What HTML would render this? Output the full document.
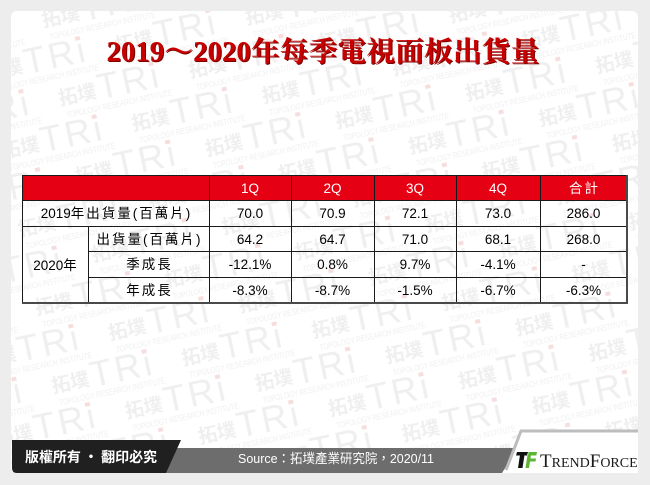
<!DOCTYPE html>
<html><head><meta charset="utf-8">
<style>
html,body{margin:0;padding:0;background:#ededed;}
body{width:650px;height:485px;overflow:hidden;position:relative;}
svg{position:absolute;left:0;top:0;display:block;}
</style></head>
<body>
<svg width="650" height="485" viewBox="0 0 650 485" xmlns="http://www.w3.org/2000/svg">
<defs>
<pattern id="wm" patternUnits="userSpaceOnUse" width="133" height="80" x="36.9" y="10.2" patternTransform="rotate(-12)">
  <g fill="#efefef">
    <text x="0" y="25" font-size="19" font-weight="bold" font-family="'Noto Sans CJK TC','Noto Sans CJK SC',sans-serif">拓墣</text>
    <text x="40" y="28" font-size="36" letter-spacing="3" font-family="'Liberation Sans',sans-serif">TRi</text>
    <rect x="95" y="1.5" width="5" height="4" fill="#f7dede"/>
    <text x="4" y="39" font-size="8" textLength="108" lengthAdjust="spacingAndGlyphs" font-family="'Liberation Sans',sans-serif">TOPOLOGY RESEARCH INSTITUTE</text>
  </g>
  <g fill="#efefef" transform="translate(66.4,40)">
    <text x="0" y="25" font-size="19" font-weight="bold" font-family="'Noto Sans CJK TC','Noto Sans CJK SC',sans-serif">拓墣</text>
    <text x="40" y="28" font-size="36" letter-spacing="3" font-family="'Liberation Sans',sans-serif">TRi</text>
    <rect x="95" y="1.5" width="5" height="4" fill="#f7dede"/>
    <text x="4" y="39" font-size="8" textLength="108" lengthAdjust="spacingAndGlyphs" font-family="'Liberation Sans',sans-serif">TOPOLOGY RESEARCH INSTITUTE</text>
  </g>
  <g fill="#efefef" transform="translate(-66.6,40)">
    <text x="0" y="25" font-size="19" font-weight="bold" font-family="'Noto Sans CJK TC','Noto Sans CJK SC',sans-serif">拓墣</text>
    <text x="40" y="28" font-size="36" letter-spacing="3" font-family="'Liberation Sans',sans-serif">TRi</text>
    <rect x="95" y="1.5" width="5" height="4" fill="#f7dede"/>
    <text x="4" y="39" font-size="8" textLength="108" lengthAdjust="spacingAndGlyphs" font-family="'Liberation Sans',sans-serif">TOPOLOGY RESEARCH INSTITUTE</text>
  </g>
</pattern>
</defs>

<!-- card -->
<rect x="11" y="11" width="627" height="462" rx="6" ry="6" fill="#ffffff"/>
<rect x="11" y="11" width="627" height="462" rx="6" ry="6" fill="url(#wm)"/>

<!-- title -->
<g font-family="'Liberation Serif','Noto Serif CJK SC',serif" font-weight="bold" font-size="28" text-anchor="middle">
  <text x="324" y="62" fill="#7a0000" textLength="433" lengthAdjust="spacingAndGlyphs">2019～2020年每季電視面板出貨量</text>
  <text x="323" y="61" fill="#c80000" textLength="433" lengthAdjust="spacingAndGlyphs">2019～2020年每季電視面板出貨量</text>
</g>

<!-- table header fill -->
<rect x="22" y="175" width="605" height="25" fill="#e60013"/>

<!-- table lines -->
<g fill="#1a1a1a">
  <rect x="22" y="175" width="605" height="1"/>
  <rect x="22" y="200" width="605" height="1"/>
  <rect x="22" y="226" width="605" height="1"/>
  <rect x="88" y="251" width="539" height="1"/>
  <rect x="88" y="277" width="539" height="1"/>
  <rect x="22" y="175" width="1" height="128"/>
  <rect x="88" y="226" width="1" height="77"/>
  <rect x="209" y="175" width="1" height="128"/>
  <rect x="291" y="175" width="1" height="128"/>
  <rect x="374" y="175" width="1" height="128"/>
  <rect x="456" y="175" width="1" height="128"/>
  <rect x="540" y="175" width="1" height="128"/>
</g>
<g fill="#4a4a4a">
  <rect x="22" y="302" width="606" height="2"/>
  <rect x="626" y="175" width="2" height="129"/>
</g>

<!-- table text -->
<g font-family="'Liberation Sans','Noto Sans CJK TC',sans-serif" font-size="13.5" text-anchor="middle">
  <g fill="#ffffff">
    <text x="250" y="193">1Q</text>
    <text x="332.5" y="193">2Q</text>
    <text x="415" y="193">3Q</text>
    <text x="498" y="193">4Q</text>
    <text x="584.5" y="193" letter-spacing="2">合計</text>
  </g>
  <g fill="#000000">
    <text x="116.5" y="218">2019<tspan letter-spacing="2">年出貨量(百萬片)</tspan></text>
    <text x="250" y="218">70.0</text>
    <text x="332.5" y="218">70.9</text>
    <text x="415" y="218">72.1</text>
    <text x="498" y="218">73.0</text>
    <text x="583.5" y="218">286.0</text>

    <text x="56" y="270">2020<tspan letter-spacing="2">年</tspan></text>

    <text x="149.5" y="244" letter-spacing="2">出貨量(百萬片)</text>
    <text x="250" y="244">64.2</text>
    <text x="332.5" y="244">64.7</text>
    <text x="415" y="244">71.0</text>
    <text x="498" y="244">68.1</text>
    <text x="583.5" y="244">268.0</text>

    <text x="149.5" y="269" letter-spacing="2">季成長</text>
    <text x="250" y="269">-12.1%</text>
    <text x="332.5" y="269">0.8%</text>
    <text x="415" y="269">9.7%</text>
    <text x="498" y="269">-4.1%</text>
    <text x="583.5" y="269">-</text>

    <text x="149.5" y="295" letter-spacing="2">年成長</text>
    <text x="250" y="295">-8.3%</text>
    <text x="332.5" y="295">-8.7%</text>
    <text x="415" y="295">-1.5%</text>
    <text x="498" y="295">-6.7%</text>
    <text x="583.5" y="295">-6.3%</text>
  </g>
</g>

<!-- footer -->
<path d="M160,448 H517 L502,473 H150 Z" fill="#6d6d6d"/>
<path d="M12,440 H181 L166,473 H17 Q12,473 12,468 Z" fill="#202020"/>
<path d="M521,432 H638 V473 H505 Z" fill="#ffffff"/>
<polyline points="638,431 521,431 506,470" fill="none" stroke="#bdbdbd" stroke-width="3"/>

<text x="25" y="462" fill="#ffffff" font-size="14" font-weight="bold" textLength="132" lengthAdjust="spacingAndGlyphs" font-family="'Noto Sans CJK TC','Noto Sans CJK SC',sans-serif">版權所有 · 翻印必究</text>
<text x="238" y="463" fill="#ffffff" font-size="13" textLength="196" lengthAdjust="spacingAndGlyphs" font-family="'Liberation Sans','Noto Sans CJK TC',sans-serif">Source：拓墣產業研究院，2020/11</text>

<!-- TrendForce logo -->
<g>
  <polygon points="517,452 528,452 527,455.5 516,455.5" fill="#111"/>
  <polygon points="520,455 524.5,455 522.5,468 518,468" fill="#111"/>
  <polygon points="528.5,452 537,452 536.3,455.5 528,455.5" fill="#5cb531"/>
  <polygon points="527.5,455 531,455 529,468 525.5,468" fill="#5cb531"/>
  <polygon points="529.5,458.5 536,458.5 535.5,461.5 529,461.5" fill="#5cb531"/>
</g>
<text x="540" y="467" fill="#1a1a1a" font-family="'Liberation Serif',serif" font-size="19">T<tspan font-size="14">REND</tspan>F<tspan font-size="14">ORCE</tspan></text>
</svg>
</body></html>
